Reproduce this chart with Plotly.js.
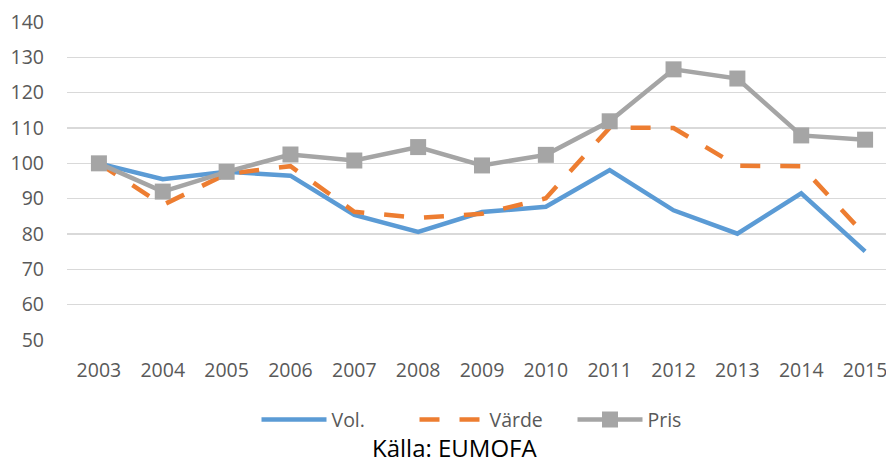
<!DOCTYPE html>
<html>
<head>
<meta charset="utf-8">
<script src="https://cdn.plot.ly/plotly-3.0.1.min.js"></script>
<style>
html,body{margin:0;padding:0;overflow:hidden;background:#fff;width:886px;height:463px;}
#chart{width:900px;height:463px;}
</style>
</head>
<body>
<div id="chart"></div>
<script>
const years = ["2003","2004","2005","2006","2007","2008","2009","2010","2011","2012","2013","2014","2015"];
const vol   = [100, 95.5, 97.6, 96.5, 85.4, 80.6, 86.2, 87.7, 98.1, 86.7, 80.1, 91.5, 75.1];
const varde = [100, 88.2, 97.0, 99.2, 86.3, 84.6, 85.7, 90.1, 110.1, 110.0, 99.3, 99.2, 79.7];
const pris  = [100, 92.0, 97.6, 102.5, 100.8, 104.6, 99.4, 102.4, 111.9, 126.6, 124.0, 107.9, 106.7];
const seriesNames = ["Vol.", "Värde", "Pris"];
const sourceText = "Källa: EUMOFA";

const font = "'Open Sans', 'Liberation Sans', sans-serif";
const traces = [
  {x: years, y: vol, name: seriesNames[0], type: "scatter", mode: "lines",
   line: {color: "#5B9BD5", width: 4.5}},
  {x: years, y: varde, name: seriesNames[1], type: "scatter", mode: "lines",
   line: {color: "#ED7D31", width: 4.5, dash: "20px,20px"}},
  {x: years, y: pris, name: seriesNames[2], type: "scatter", mode: "lines+markers",
   line: {color: "#A5A5A5", width: 4.5},
   marker: {symbol: "square", size: 16, color: "#A5A5A5"}}
];
const layout = {
  width: 900, height: 463,
  margin: {l: 67, r: 3, t: 22, b: 123},
  paper_bgcolor: "#fff", plot_bgcolor: "#fff",
  font: {family: font, color: "#595959", size: 19.5},
  showlegend: true,
  legend: {orientation: "h", xref: "container", yref: "container",
           x: 0.285, xanchor: "left", y: 0.093, yanchor: "middle",
           itemwidth: 65, entrywidth: 78, entrywidthmode: "pixels",
           font: {family: font, size: 19.5, color: "#595959"}},
  xaxis: {type: "category", range: [-0.5, 12.5], showgrid: false, zeroline: false,
          showline: false, ticks: "", ticklabelstandoff: 16,
          tickfont: {family: font, size: 19.5, color: "#595959"}},
  yaxis: {range: [50, 140], dtick: 10, tick0: 50, showgrid: true, gridcolor: "#D9D9D9",
          gridwidth: 1.6, zeroline: false, showline: false, ticks: "",
          ticklabelstandoff: 22,
          tickfont: {family: font, size: 19.5, color: "#595959"}},
  annotations: [{text: sourceText, xref: "paper", yref: "paper", x: 0.467, y: -0.337,
                 xanchor: "center", yanchor: "middle", showarrow: false,
                 font: {family: font, size: 24, color: "#000"}}]
};
Plotly.newPlot("chart", traces, layout, {displayModeBar: false, staticPlot: true});
</script>
</body>
</html>
